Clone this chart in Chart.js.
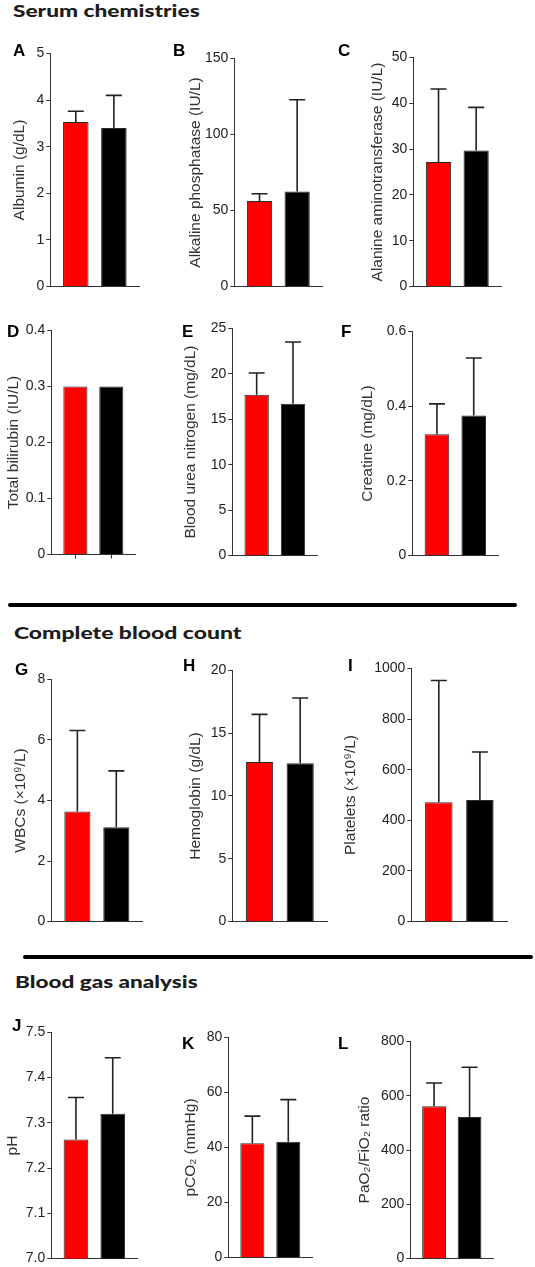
<!DOCTYPE html>
<html>
<head>
<meta charset="utf-8">
<script src="https://cdn.jsdelivr.net/npm/chart.js@4.4.0/dist/chart.umd.min.js"></script>
<style>
  body { margin: 0; background: #fff; width: 535px; height: 1267px; position: relative; overflow: hidden; }
  .head { position: absolute; font-family: Lato, 'Open Sans', sans-serif; font-weight: 900; font-size: 16px;
          line-height: 20px; color: #1c1c1c; white-space: nowrap; transform-origin: 0 50%; }
  .rule { position: absolute; height: 4px; background: #000; border-radius: 2px; }
  .tag { position: absolute; font-family: 'Liberation Sans', Arial, sans-serif; font-weight: bold;
         font-size: 17px; line-height: 17px; color: #000; }
  .panel { position: absolute; }
</style>
</head>
<body>
<script>
'use strict';

// panel letters and y axis titles
const letters = ['A', 'B', 'C', 'D', 'E', 'F', 'G', 'H', 'I', 'J', 'K', 'L'];
const yTitles = [
    'Albumin (g/dL)', 'Alkaline phosphatase (IU/L)', 'Alanine aminotransferase (IU/L)',
    'Total bilirubin (IU/L)', 'Blood urea nitrogen (mg/dL)', 'Creatine (mg/dL)',
    'WBCs (\u00d710\u2079/L)', 'Hemoglobin (g/dL)', 'Platelets (\u00d710\u2079/L)',
    'pH', 'pCO\u2082 (mmHg)', 'PaO\u2082/FiO\u2082 ratio'
];

// red group (mean, SD) and black group (mean, SD)
const redMean = [3.53, 56.2, 27.2, 0.3, 17.7, 0.325, 3.64, 12.7, 471, 7.263, 41.5, 561];
const redSD = [0.23, 4.8, 15.9, 0, 2.4, 0.081, 2.67, 3.8, 481, 0.093, 9.9, 86];
const blackMean = [3.40, 62.5, 29.7, 0.3, 16.7, 0.375, 3.12, 12.6, 480, 7.320, 42.1, 522];
const blackSD = [0.70, 60.3, 9.4, 0, 6.8, 0.154, 1.86, 5.2, 190, 0.124, 15.3, 183];

// y axis ranges and tick steps
const yMin = [0, 0, 0, 0, 0, 0, 0, 0, 0, 7.0, 0, 0];
const yMax = [5, 150, 50, 0.4, 25, 0.6, 8, 20, 1000, 7.5, 80, 800];
const yStep = [1, 50, 10, 0.1, 5, 0.2, 2, 5, 200, 0.1, 20, 200];
const yDecimals = [0, 0, 0, 1, 0, 1, 0, 0, 0, 1, 0, 0];

const sections = ['Serum chemistries', 'Complete blood count', 'Blood gas analysis'];

// page layout (pixels)
const boxes = [
    {axisX: 50, top: 53, bottom: 287, xEnd: 139, titleX: 19, lx: 13, ly: 50},
    {axisX: 234, top: 58, bottom: 287, xEnd: 322, titleX: 195, lx: 173, ly: 50},
    {axisX: 413, top: 57, bottom: 287, xEnd: 501, titleX: 377, lx: 338, ly: 50},
    {axisX: 51, top: 330, bottom: 555, xEnd: 135, titleX: 13, lx: 7, ly: 331},
    {axisX: 232, top: 328, bottom: 556, xEnd: 317, titleX: 190, lx: 182, ly: 331},
    {axisX: 412, top: 331, bottom: 556, xEnd: 498, titleX: 367, lx: 341, ly: 331},
    {axisX: 51, top: 679, bottom: 922, xEnd: 142, titleX: 20, lx: 15, ly: 669},
    {axisX: 232, top: 670, bottom: 922, xEnd: 327, titleX: 195, lx: 183, ly: 665},
    {axisX: 411, top: 668, bottom: 922, xEnd: 507, titleX: 350, lx: 348, ly: 665},
    {axisX: 51, top: 1032, bottom: 1259, xEnd: 137, titleX: 12, lx: 12, ly: 1025},
    {axisX: 228, top: 1037, bottom: 1258, xEnd: 312, titleX: 190, lx: 182, ly: 1043},
    {axisX: 410, top: 1041, bottom: 1259, xEnd: 493, titleX: 364, lx: 338, ly: 1043}
];
const heads = [
    {x: 13, cy: 10.5, w: 187},
    {x: 14, cy: 633, w: 228},
    {x: 15, cy: 982, w: 183}
];
const rules = [
    {x1: 8, x2: 517, cy: 605},
    {x1: 23, x2: 533, cy: 957}
];

const FONT = "'Liberation Sans', Arial, Helvetica, sans-serif";
const AXIS = '#333';
const TITLE_SIZE = 15.5;

// SD whiskers, drawn from the bar top through the y scale
const errorBars = {
    id: 'errorBars',
    afterDatasetsDraw(chart, args, opts) {
        const ctx = chart.ctx;
        const y = chart.scales.y;
        const ds = chart.data.datasets[0];
        ctx.save();
        ctx.strokeStyle = opts.color;
        ctx.lineWidth = opts.width;
        chart.getDatasetMeta(0).data.forEach((bar, j) => {
            const sd = ds.sd[j];
            if (!sd) return;
            const top = y.getPixelForValue(ds.data[j].y + sd);
            ctx.beginPath();
            ctx.moveTo(bar.x, bar.y);
            ctx.lineTo(bar.x, top);
            ctx.moveTo(bar.x - opts.cap, top);
            ctx.lineTo(bar.x + opts.cap, top);
            ctx.stroke();
        });
        ctx.restore();
    }
};

function addDiv(cls, text, css) {
    const d = document.createElement('div');
    d.className = cls;
    if (text) d.textContent = text;
    Object.assign(d.style, css);
    document.body.appendChild(d);
    return d;
}

sections.forEach((txt, k) => {
    const h = heads[k];
    const d = addDiv('head', txt, {left: h.x + 'px', top: (h.cy - 10) + 'px'});
    d.style.transform = `scaleX(${h.w / d.offsetWidth})`;
});

rules.forEach(r => addDiv('rule', '', {
    left: r.x1 + 'px', width: (r.x2 - r.x1) + 'px', top: (r.cy - 2) + 'px'
}));

function makePanel(i) {
    const b = boxes[i];
    const plotW = b.xEnd - b.axisX;
    const plotH = b.bottom - b.top;
    const yW = b.axisX - (b.titleX - TITLE_SIZE * 0.6);
    const padTop = 10, padRight = 4, padBottom = 4, xH = 6;
    const W = Math.round(yW + plotW + padRight);
    const H = padTop + plotH + xH + padBottom;

    const wrap = addDiv('panel', '', {});
    const cv = document.createElement('canvas');
    cv.width = W;
    cv.height = H;
    wrap.appendChild(cv);

    const chart = new Chart(cv, {
        type: 'bar',
        data: {
            datasets: [{
                data: [{x: 1, y: redMean[i]}, {x: 2, y: blackMean[i]}],
                sd: [redSD[i], blackSD[i]],
                backgroundColor: ['#ff0000', '#000000'],
                borderColor: '#2a2a2a',
                borderWidth: 1,
                barPercentage: 0.67,
                categoryPercentage: 1
            }]
        },
        options: {
            responsive: false,
            animation: false,
            devicePixelRatio: 1,
            layout: {padding: {top: padTop, right: padRight, bottom: padBottom, left: 0}},
            plugins: {
                legend: {display: false},
                tooltip: {enabled: false},
                errorBars: {color: '#222', width: 1.6, cap: 8}
            },
            scales: {
                x: {
                    type: 'linear',
                    min: 0.33,
                    max: 2.66,
                    offset: false,
                    ticks: {display: false},
                    grid: {display: i === 3, offset: false, drawOnChartArea: false, drawTicks: true,
                           tickLength: 4, color: AXIS},
                    border: {display: true, color: AXIS, width: 1},
                    afterBuildTicks: s => { s.ticks = [{value: 1}, {value: 2}]; },
                    afterFit: s => { s.height = xH; }
                },
                y: {
                    min: yMin[i],
                    max: yMax[i],
                    ticks: {
                        stepSize: yStep[i],
                        autoSkip: false,
                        padding: 2,
                        color: '#222',
                        font: {family: FONT, size: 14},
                        callback: v => (v === 0 ? '0' : v.toFixed(yDecimals[i]))
                    },
                    grid: {drawOnChartArea: false, drawTicks: true, tickLength: 4, color: AXIS},
                    border: {display: true, color: AXIS, width: 1},
                    title: {
                        display: true,
                        text: yTitles[i],
                        color: '#333',
                        padding: 0,
                        font: {family: FONT, size: TITLE_SIZE}
                    },
                    afterFit: s => { s.width = yW; }
                }
            }
        },
        plugins: [errorBars]
    });

    // make the plot area land exactly on the target box
    let ca = chart.chartArea;
    if (Math.round(ca.right - ca.left) !== plotW || Math.round(ca.bottom - ca.top) !== plotH) {
        chart.resize(Math.round(W + plotW - (ca.right - ca.left)), Math.round(H + plotH - (ca.bottom - ca.top)));
        ca = chart.chartArea;
    }
    wrap.style.left = (b.axisX - ca.left) + 'px';
    wrap.style.top = (b.top - ca.top) + 'px';

    addDiv('tag', letters[i], {left: b.lx + 'px', top: (b.ly - 8.3) + 'px'});
}

letters.forEach((l, i) => makePanel(i));
</script>
</body>
</html>
